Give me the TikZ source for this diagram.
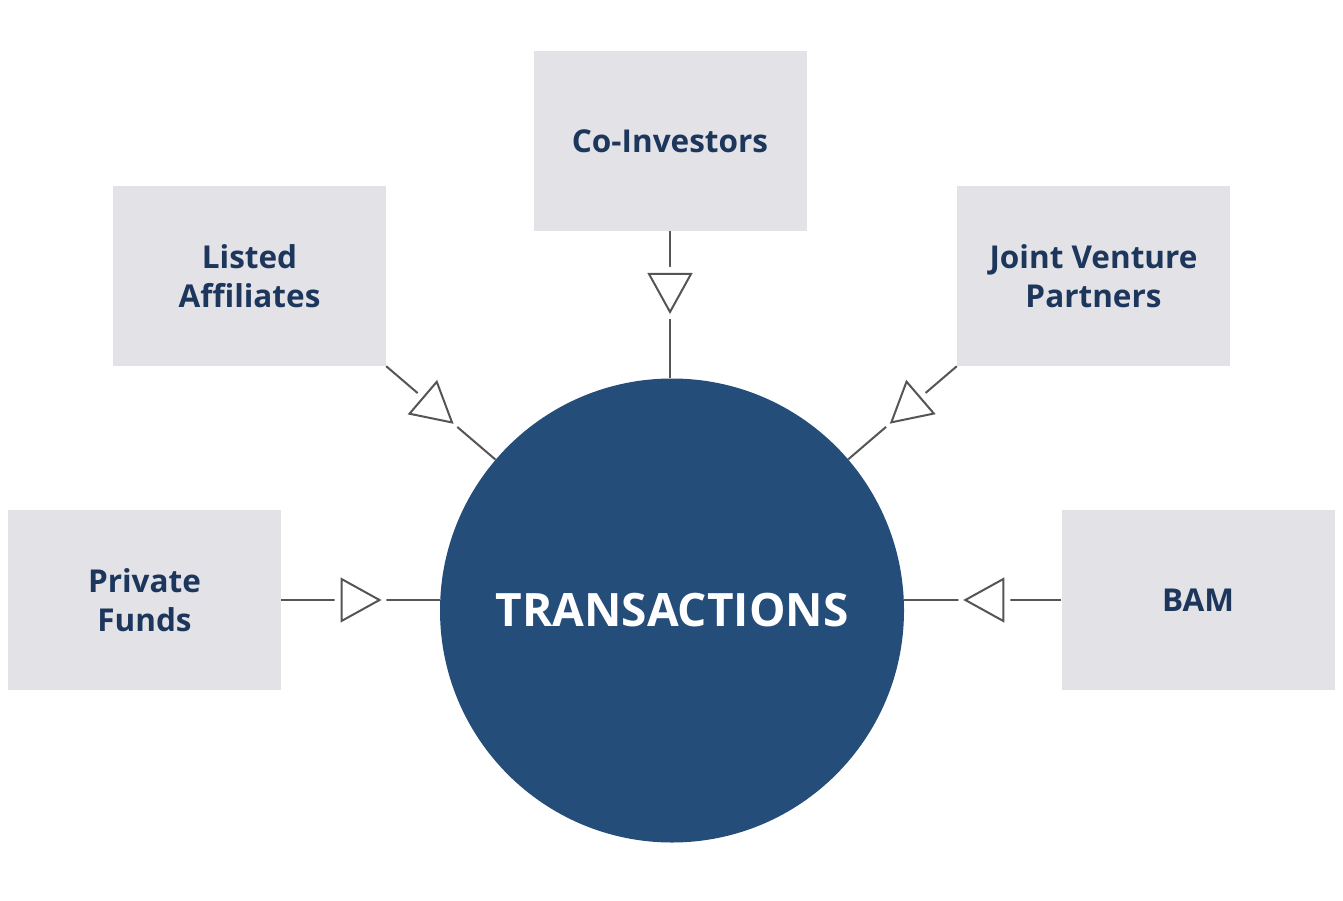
\documentclass[tikz,border=0pt]{standalone}
\usepackage{fontspec}
\setmainfont{Open Sans}
\usetikzlibrary{decorations.markings}

\definecolor{boxgray}{RGB}{227,226,231}
\definecolor{navy}{RGB}{36,77,122}
\definecolor{navytext}{RGB}{28,54,92}
\definecolor{linegray}{RGB}{85,85,85}

\tikzset{
  party/.style={fill=boxgray,minimum width=273pt,minimum height=180pt,inner sep=0pt,
    align=center,text=navytext,font=\fontsize{31.5}{39}\selectfont\bfseries},
  hub/.style={circle,fill=navy,minimum size=464pt,inner sep=0pt,text=white,
    font=\fontsize{46}{50}\selectfont\bfseries},
  link/.style={draw=linegray,line width=2pt,
    decoration={markings,mark=at position #1 with {
      \draw[white,line width=14pt,line join=round] (-19,-21) -- (19,0) -- (-19,21) -- cycle;
      \draw[linegray,line width=2pt,fill=white] (-19,-21) -- (19,0) -- (-19,21) -- cycle;}},
    postaction={decorate}},
  link/.default=0.5
}

\begin{document}
\begin{tikzpicture}[x=1pt,y=-1pt]

\fill[white] (0,0) rectangle (1343,901);
\useasboundingbox (0,0) rectangle (1343,901);

% -- centre
\node [hub] (tr) at (672,610.5) {TRANSACTIONS};

% -- boxes
\node [party] (co) at (670,141) {Co-Investors};
\node [party] (la) at (249.5,276) {Listed\\Affiliates};
\node [party] (jv) at (1093.5,276) {Joint Venture\\Partners};
\node [party] (pf) at (144.5,600) {Private\\Funds};
\node [party] (bam) at (1198,600) {BAM};

% -- draw arrows
\draw[link=0.42] (co.south) -- (co.south |- tr.north);
\draw[link=0.47] (la.south east) -- (tr);
\draw[link=0.47] (jv.south west) -- (tr);
\draw[link] (pf.east) -- (pf.east -| tr.west);
\draw[link=0.49] (bam.west) -- (bam.west -| tr.east);

\end{tikzpicture}
\end{document}
